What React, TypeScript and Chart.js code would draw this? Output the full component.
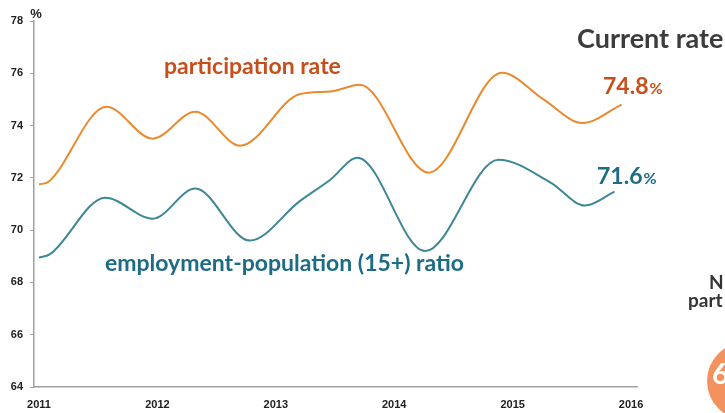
import React, { useEffect, useRef } from "react";
import { Chart, registerables } from "chart.js";

Chart.register(...registerables);

// Tick labels
const yearTicks = [2011, 2012, 2013, 2014, 2015, 2016];

// Participation rate (fractional year, %)
const participationYears = [2011.0, 2011.08, 2011.57, 2011.96, 2012.32, 2012.7, 2013.2, 2013.46, 2013.71, 2014.29, 2014.91, 2015.26, 2015.59, 2015.92];
const participationValues = [71.75, 71.85, 74.72, 73.5, 74.53, 73.23, 75.2, 75.3, 75.56, 72.2, 76.02, 75.0, 74.1, 74.8];

// Employment-population (15+) ratio (fractional year, %)
const employmentYears = [2011.0, 2011.09, 2011.56, 2011.96, 2012.32, 2012.78, 2013.2, 2013.46, 2013.69, 2014.26, 2014.88, 2015.32, 2015.61, 2015.86];
const employmentValues = [68.95, 69.07, 71.24, 70.44, 71.59, 69.6, 71.1, 71.93, 72.77, 69.2, 72.69, 71.82, 70.94, 71.47];

const currentParticipation = "74.8";
const currentEmployment = "71.6";

const ORANGE_LINE = "#E98A2E";
const ORANGE_TEXT = "#C64F1C";
const TEAL_LINE = "#3E8896";
const TEAL_TEXT = "#1C6C85";

const annotations = {
  id: "annotations",
  afterDraw(chart: any) {
    const ctx = chart.ctx;
    ctx.save();
    ctx.textBaseline = "alphabetic";
    // unit
    ctx.fillStyle = "#222";
    ctx.font = 'bold 13px "Liberation Sans"';
    ctx.textAlign = "center";
    ctx.fillText("%", 36, 18);

    ctx.textAlign = "left";
    // series labels
    ctx.font = 'bold 23px Lato';
    ctx.fillStyle = ORANGE_TEXT;
    ctx.fillText("participation rate", 164, 74);
    ctx.fillStyle = TEAL_TEXT;
    ctx.fillText("employment-population (15+) ratio", 105, 271);

    // right panel
    ctx.fillStyle = "#3c3c3c";
    ctx.font = 'bold 27px Lato';
    ctx.fillText("Current rate", 577, 48);

    const drawValue = (val: string, x: number, y: number, color: string) => {
      ctx.fillStyle = color;
      ctx.font = 'bold 23px Lato';
      ctx.fillText(val, x, y);
      const w = ctx.measureText(val).width;
      ctx.font = 'bold 16px Lato';
      ctx.fillText("%", x + w + 1, y);
    };
    drawValue(currentParticipation, 603, 94, ORANGE_TEXT);
    drawValue(currentEmployment, 597, 184, TEAL_TEXT);

    ctx.fillStyle = "#333";
    ctx.font = 'bold 19px Lato';
    ctx.fillText("N", 709, 289);
    ctx.fillText("part", 688, 307);

    // orange circle
    ctx.fillStyle = "#F4925F";
    ctx.beginPath();
    ctx.arc(746, 381, 39, 0, Math.PI * 2);
    ctx.fill();
    ctx.fillStyle = "#fff";
    ctx.font = 'bold 29px Lato';
    ctx.fillText("6", 712, 384);
    ctx.restore();
  },
};

export default function App() {
  const ref = useRef<HTMLCanvasElement>(null);
  useEffect(() => {
    document.body.style.margin = "0";
    const chart = new Chart(ref.current!, {
      type: "line",
      data: {
        datasets: [
          {
            label: "participation rate",
            data: participationYears.map((x, i) => ({ x, y: participationValues[i] })),
            borderColor: ORANGE_LINE,
            borderWidth: 2,
            pointRadius: 0,
            cubicInterpolationMode: "monotone",
          },
          {
            label: "employment-population (15+) ratio",
            data: employmentYears.map((x, i) => ({ x, y: employmentValues[i] })),
            borderColor: TEAL_LINE,
            borderWidth: 2,
            pointRadius: 0,
            cubicInterpolationMode: "monotone",
          },
        ],
      },
      options: {
        animation: false,
        responsive: true,
        maintainAspectRatio: false,
        layout: { padding: { top: 21, right: 88, left: 0, bottom: 0 } },
        plugins: { legend: { display: false }, tooltip: { enabled: false } },
        scales: {
          x: {
            type: "linear",
            min: 2010.958,
            max: 2016.05,
            afterBuildTicks: (axis: any) => {
              axis.ticks = yearTicks.map((v) => ({ value: v }));
            },
            afterFit: (s: any) => {
              s.height = 26;
            },
            grid: { display: false, drawTicks: false },
            border: { display: true, color: "#a0a0a0", width: 1.5 },
            ticks: {
              padding: 11,
              autoSkip: false,
              maxRotation: 0,
              color: "#222",
              font: { family: "Liberation Sans", weight: "bold", size: 11 },
              callback: (v: any) => String(v),
            },
          },
          y: {
            min: 64,
            max: 78,
            afterFit: (s: any) => {
              s.width = 34;
            },
            grid: { drawOnChartArea: false, drawTicks: true, tickLength: 4, color: "#a0a0a0" },
            border: { display: true, color: "#a0a0a0", width: 1.5 },
            ticks: {
              stepSize: 2,
              padding: 7,
              color: "#222",
              font: { family: "Liberation Sans", weight: "bold", size: 11 },
            },
          },
        },
      },
      plugins: [annotations],
    } as any);
    return () => chart.destroy();
  }, []);
  return (
    <div style={{ position: "relative", width: 725, height: 413, background: "#fff" }}>
      <canvas ref={ref} />
    </div>
  );
}
